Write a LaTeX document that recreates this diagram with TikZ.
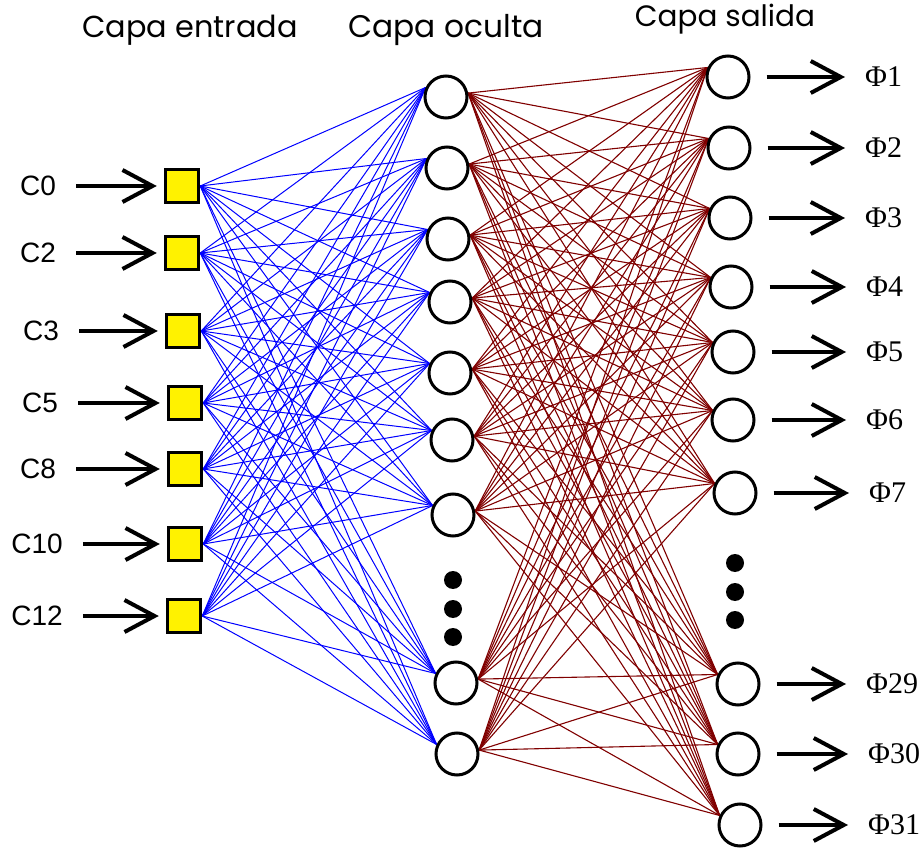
\documentclass[tikz,border=0pt]{standalone}
\usepackage{fontspec}
\setmainfont{Liberation Sans}
\newfontfamily\phifont{Liberation Serif}
\newfontfamily\titlefont{Poppins}
\usetikzlibrary{arrows.meta,backgrounds}
\definecolor{wine}{RGB}{128,0,0}
\tikzset{
  inp/.style={draw=black,line width=3.5pt,fill=yellow,minimum size=33pt,inner sep=0pt},
  neu/.style={circle,draw=black,line width=3pt,fill=white,minimum size=42pt,inner sep=0pt},
  blk/.style={circle,fill=black,minimum size=18pt,inner sep=0pt},
  arr/.style={line width=4pt,-{Straight Barb[length=30pt,width=32pt]}},
  wblue/.style={blue,line width=1pt},
  wred/.style={wine,line width=1.1pt},
  clab/.style={font=\fontsize{28}{30}\selectfont,inner sep=0pt},
  plab/.style={font=\phifont\fontsize{30}{32}\selectfont,inner sep=0pt,anchor=west},
  ttl/.style={inner sep=0pt}
}
\begin{document}
\begin{tikzpicture}[x=1pt,y=-1pt]
\useasboundingbox (0,0) rectangle (922,850);

% titles
\node[ttl] (t1) at (190,30) {\resizebox{215pt}{!}{\titlefont Capa entrada}};
\node[ttl] (t2) at (446,30) {\resizebox{195pt}{!}{\titlefont Capa oculta}};
\node[ttl] (t3) at (725,19) {\resizebox{180pt}{!}{\titlefont Capa salida}};

% input layer
\foreach \n/\x/\y/\t/\lx in {1/182/186/C0/38, 2/182/253/C2/38, 3/183/331/C3/41, 4/185/403/C5/40, 5/185/469/C8/38, 6/185/544/C10/37, 7/184/616/C12/37}{
  \node[inp] (i\n) at (\x,\y) {};
  \node[clab] (l\n) at (\lx,\y) {\t};
  \draw[arr,shorten <=20pt,shorten >=7pt] (l\n.east) -- (i\n.west);
}

% hidden layer
\foreach \n/\x/\y in {1/446/97, 2/447/168, 3/448/239, 4/450/302, 5/450/373, 6/452/440, 7/453/515, 8/456/683, 9/457/754}{
  \node[neu] (h\n) at (\x,\y) {};
}
\node[blk] (hd1) at (453,580) {};
\node[blk] (hd2) at (453,609) {};
\node[blk] (hd3) at (453,637) {};

% output layer
\foreach \n/\x/\y/\t/\lx in {1/728/77/1/865, 2/729/148/2/865, 3/730/218/3/865, 4/731/287/4/866, 5/733/352/5/866, 6/733/420/6/866, 7/735/493/7/869, 8/738/684/29/866, 9/738/754/30/868, 10/740/825/31/868}{
  \node[neu] (o\n) at (\x,\y) {};
  \node[plab] (p\n) at (\lx,\y) {Φ\t};
  \draw[arr,shorten <=16pt,shorten >=20pt] (o\n.east) -- (p\n.west);
}
\node[blk] (od1) at (735,563) {};
\node[blk] (od2) at (735,592) {};
\node[blk] (od3) at (735,620) {};

% connections
\begin{pgfonlayer}{background}
\fill[white] (0,0) rectangle (922,850);
\foreach \a in {1,...,7}{
  \foreach \b in {1,...,9}{
    \draw[wblue] (i\a.east) -- (h\b.155);
  }
}
\foreach \a in {1,...,9}{
  \foreach \b in {1,...,10}{
    \draw[wred] (h\a.10) -- (o\b.155);
  }
}
\end{pgfonlayer}
\end{tikzpicture}
\end{document}
